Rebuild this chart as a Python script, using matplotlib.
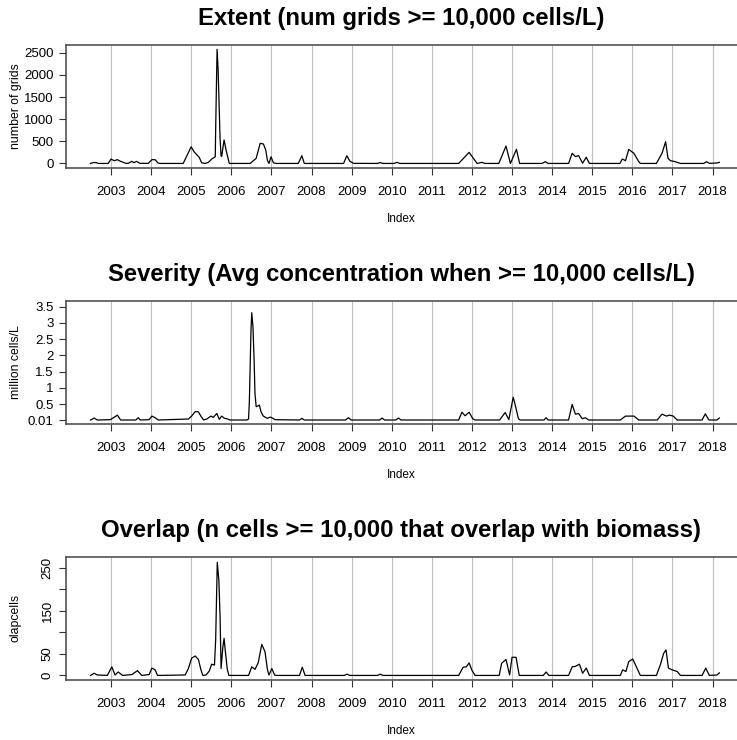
import matplotlib
matplotlib.use("Agg")
import matplotlib.pyplot as plt

plt.rcParams["font.family"] = ["Liberation Sans", "DejaVu Sans"]

years = list(range(2003, 2019))

# Extent: number of grids >= 10,000 cells/L
extent_t = [2002.49, 2002.56, 2002.63, 2002.68, 2002.93, 2003.00, 2003.08, 2003.16, 2003.24,
            2003.37, 2003.43, 2003.52, 2003.57, 2003.64, 2003.72, 2003.93, 2004.02, 2004.10,
            2004.17, 2004.22, 2004.80, 2005.00, 2005.07, 2005.20, 2005.26, 2005.35, 2005.43,
            2005.51, 2005.60, 2005.61, 2005.645, 2005.67, 2005.695, 2005.72, 2005.745, 2005.76,
            2005.82, 2005.87, 2005.95, 2006.47, 2006.62, 2006.72, 2006.80, 2006.86, 2006.90,
            2006.94, 2006.99, 2007.05, 2007.12, 2007.67, 2007.76, 2007.82, 2008.80, 2008.88,
            2008.96, 2009.05, 2009.65, 2009.71, 2009.78, 2010.06, 2010.13, 2010.20, 2011.67,
            2011.93, 2012.13, 2012.25, 2012.32, 2012.67, 2012.85, 2012.96, 2013.11, 2013.19,
            2013.75, 2013.83, 2013.90, 2014.41, 2014.50, 2014.58, 2014.66, 2014.76, 2014.85,
            2014.93, 2015.69, 2015.75, 2015.83, 2015.91, 2016.04, 2016.16, 2016.20, 2016.60,
            2016.74, 2016.83, 2016.89, 2016.95, 2017.07, 2017.20, 2017.78, 2017.85, 2017.92,
            2018.11, 2018.17]
extent_v = [0, 20, 20, 0, 0, 99, 62, 85, 47,
            2, 2, 47, 17, 47, 2, 2, 85, 85,
            10, 0, 0, 377, 265, 138, 15, 0, 25,
            100, 150, 770, 2577, 2147, 1357, 567, 167, 160,
            530, 300, 0, 0, 115, 453, 440, 300, 70,
            0, 150, 15, 0, 0, 175, 0, 0, 174,
            47, 2, 0, 20, 0, 0, 25, 0, 0,
            250, 0, 25, 0, 0, 393, 0, 318, 0,
            0, 40, 0, 0, 228, 155, 176, 5, 140,
            0, 0, 100, 62, 318, 228, 40, 0, 0,
            228, 490, 115, 62, 40, 0, 0, 40, 2,
            10, 25]

# Severity: average concentration (million cells/L)
severity_t = [2002.49, 2002.58, 2002.66, 2002.98, 2003.06, 2003.16, 2003.24, 2003.62, 2003.68,
              2003.73, 2003.95, 2004.02, 2004.10, 2004.18, 2004.93, 2005.01, 2005.10, 2005.18,
              2005.25, 2005.31, 2005.39, 2005.49, 2005.55, 2005.64, 2005.70, 2005.76, 2005.83,
              2005.89, 2005.97, 2006.39, 2006.43, 2006.45, 2006.47, 2006.49, 2006.51, 2006.54,
              2006.57, 2006.59, 2006.62, 2006.66, 2006.70, 2006.74, 2006.79, 2006.84, 2006.90,
              2006.97, 2007.04, 2007.09, 2007.70, 2007.76, 2007.82, 2008.85, 2008.92, 2008.99,
              2009.70, 2009.76, 2009.82, 2010.10, 2010.17, 2010.23, 2011.67, 2011.75, 2011.83,
              2011.93, 2012.02, 2012.08, 2012.69, 2012.83, 2012.92, 2013.03, 2013.08, 2013.16,
              2013.20, 2013.80, 2013.85, 2013.90, 2014.41, 2014.50, 2014.58, 2014.66, 2014.75,
              2014.83, 2014.91, 2015.70, 2015.83, 2016.04, 2016.16, 2016.62, 2016.74, 2016.85,
              2016.93, 2017.02, 2017.12, 2017.74, 2017.82, 2017.91, 2018.11, 2018.17]
severity_v = [0.01, 0.07, 0.01, 0.02, 0.08, 0.16, 0.01, 0.01, 0.08,
              0.01, 0.02, 0.13, 0.08, 0.01, 0.04, 0.13, 0.27, 0.26,
              0.11, 0.01, 0.04, 0.13, 0.09, 0.21, 0.03, 0.13, 0.06,
              0.05, 0.01, 0.01, 0.04, 0.57, 1.65, 2.73, 3.31, 2.88,
              1.81, 0.83, 0.42, 0.44, 0.47, 0.27, 0.14, 0.10, 0.06,
              0.10, 0.06, 0.02, 0.01, 0.06, 0.01, 0.01, 0.08, 0.01,
              0.01, 0.07, 0.01, 0.01, 0.07, 0.01, 0.01, 0.25, 0.14,
              0.25, 0.05, 0.01, 0.01, 0.24, 0.02, 0.71, 0.47, 0.05,
              0.01, 0.01, 0.08, 0.01, 0.01, 0.49, 0.19, 0.21, 0.05,
              0.08, 0.01, 0.01, 0.13, 0.13, 0.01, 0.01, 0.19, 0.13,
              0.16, 0.13, 0.01, 0.01, 0.20, 0.01, 0.01, 0.07]

# Overlap: cells >= 10,000 overlapping biomass
overlap_t = [2002.49, 2002.58, 2002.66, 2002.91, 2003.02, 2003.10, 2003.18, 2003.29, 2003.52,
             2003.66, 2003.77, 2003.95, 2004.02, 2004.10, 2004.16, 2004.85, 2004.93, 2005.01,
             2005.10, 2005.18, 2005.24, 2005.29, 2005.37, 2005.45, 2005.51, 2005.58, 2005.61,
             2005.65, 2005.69, 2005.72, 2005.745, 2005.79, 2005.82, 2005.85, 2005.90, 2005.94,
             2006.43, 2006.51, 2006.59, 2006.67, 2006.76, 2006.84, 2006.90, 2006.94, 2007.01,
             2007.08, 2007.12, 2007.70, 2007.77, 2007.84, 2008.82, 2008.88, 2008.95, 2009.65,
             2009.71, 2009.78, 2011.67, 2011.78, 2011.86, 2011.93, 2012.00, 2012.08, 2012.68,
             2012.74, 2012.85, 2012.94, 2013.00, 2013.10, 2013.18, 2013.78, 2013.85, 2013.92,
             2014.41, 2014.50, 2014.58, 2014.68, 2014.76, 2014.85, 2014.93, 2015.70, 2015.76,
             2015.84, 2015.91, 2016.01, 2016.10, 2016.20, 2016.60, 2016.70, 2016.78, 2016.84,
             2016.90, 2016.99, 2017.12, 2017.20, 2017.74, 2017.83, 2017.92, 2018.11, 2018.17]
overlap_v = [0, 5, 1, 0, 20, 1, 8, 0, 2,
             11, 0, 2, 17, 13, 0, 1, 16, 40,
             45, 37, 14, 0, 1, 10, 26, 24, 82,
             262, 220, 136, 16, 66, 86, 57, 14, 0,
             0, 20, 14, 29, 72, 55, 14, 1, 16,
             1, 0, 0, 19, 0, 0, 3, 0, 0,
             3, 0, 0, 19, 20, 29, 12, 0, 0,
             28, 37, 1, 42, 42, 0, 0, 8, 0,
             0, 20, 21, 26, 5, 17, 0, 0, 13,
             9, 32, 38, 20, 0, 0, 25, 51, 59,
             17, 13, 9, 0, 0, 17, 0, 1, 6]

titles = ["Extent (num grids >= 10,000 cells/L)",
          "Severity (Avg concentration when >= 10,000 cells/L)",
          "Overlap (n cells >= 10,000 that overlap with biomass)"]
ylabels = ["number of grids", "million cells/L", "olapcells"]

W, H = 737, 740
fig = plt.figure(figsize=(W / 100, H / 100), dpi=100)

left = 66 / W
width = (739 - 66) / W
ph = 123.5
bottoms_px = [168, 424, 680]

panels = [
    (extent_t, extent_v, (-103, 2686), [0, 500, 1000, 1500, 2000, 2500],
     ["0", "500", "1000", "1500", "2000", "2500"], 0),
    (severity_t, severity_v, (-0.113, 3.685), [0.01, 0.5, 1, 1.5, 2, 2.5, 3, 3.5],
     ["0.01", "0.5", "1", "1.5", "2", "2.5", "3", "3.5"], 0),
    (overlap_t, overlap_v, (-10.6, 275.6), [0, 50, 100, 150, 200, 250],
     ["0", "50", "", "150", "", "250"], 90),
]

for i, (t, v, ylim, yt, ytl, rot) in enumerate(panels):
    ax = fig.add_axes([left, 1 - bottoms_px[i] / H, width, ph / H])
    for yr in years:
        ax.axvline(yr, color="#bebebe", lw=0.8, zorder=0)
    ax.plot(t, v, color="black", lw=0.9, zorder=2)
    ax.set_xlim(2001.878, 2018.66)
    ax.set_ylim(*ylim)
    ax.set_xticks(years)
    ax.set_xticklabels([str(y) for y in years], fontsize=9.5)
    ax.set_yticks(yt)
    if rot:
        ax.set_yticklabels(ytl, fontsize=9.5, rotation=90, va="center")
    else:
        ax.set_yticklabels(ytl, fontsize=9.5)
    ax.tick_params(axis="x", length=5, width=0.8, pad=8, color="#333333")
    ax.tick_params(axis="y", length=5, width=0.8, pad=4, color="#333333")
    for s in ax.spines.values():
        s.set_color("#444444")
        s.set_linewidth(1.1)
    ax.set_xlabel("Index", fontsize=8.5)
    ax.set_ylabel(ylabels[i], fontsize=8.8)
    ax.yaxis.set_label_coords(-(66 - 22) / (739 - 66), 0.5)
    ax.xaxis.set_label_coords(0.5 - 1.5 / 673, -51 / ph)
    ax.xaxis.label.set_va("center")
    ax.text(0.5 - 1.5 / 673, 1 + 26 / ph, titles[i], transform=ax.transAxes,
            ha="center", va="center", fontsize=17.2, fontweight="bold")

fig.savefig("out.png", dpi=100)
